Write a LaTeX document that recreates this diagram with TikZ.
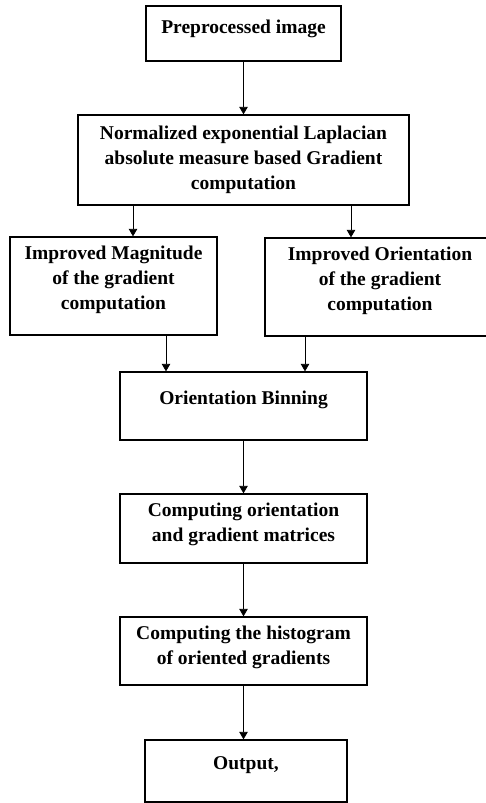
\documentclass[tikz,border=0pt]{standalone}
\usepackage{fontspec}
\setmainfont{Liberation Serif}
\usetikzlibrary{arrows.meta}

\tikzset{
  flowbox/.style={draw, line width=1.3pt, align=center, inner sep=0pt,
    font=\fontsize{19.5}{25}\selectfont\bfseries},
  arr/.style={line width=0.8pt, -{Triangle[length=7.5pt,width=8.5pt]}}
}

\begin{document}
\begin{tikzpicture}[x=1pt, y=-1pt]
    \useasboundingbox (0,0) rectangle (486,803);

    % Input
    \node[flowbox, minimum width=195pt, minimum height=55pt, text depth=14pt]
        (pre) at (243.5,33.5) {Preprocessed image};

    % Gradient computation
    \node[flowbox, minimum width=331pt, minimum height=90pt]
        (grad) at (243.5,160) {Normalized exponential Laplacian\\absolute measure based Gradient\\computation};

    % Magnitude and orientation
    \node[flowbox, minimum width=207pt, minimum height=98pt, text depth=16pt]
        (mag) at (113.5,286) {Improved Magnitude\\of the gradient\\computation};
    \node[flowbox, minimum width=230pt, minimum height=98pt, text depth=16pt]
        (ori) at (380,287) {Improved Orientation\\of the gradient\\computation};

    % Binning
    \node[flowbox, minimum width=247pt, minimum height=68pt, text depth=16pt]
        (bin) at (243.5,406) {Orientation Binning};

    % Matrices and histogram
    \node[flowbox, minimum width=247pt, minimum height=69pt, text depth=12pt]
        (mat) at (243.5,528.5) {Computing orientation\\and gradient matrices};
    \node[flowbox, minimum width=247pt, minimum height=68pt, text depth=12pt]
        (hist) at (243.5,651) {Computing the histogram\\of oriented gradients};

    % Output
    \node[flowbox, minimum width=202pt, minimum height=62pt, text depth=16pt]
        (out) at (246,771) {Output,};

    % Arrows
    \draw[arr] (pre) -- (grad);
    \draw[arr] ([xshift=19.5pt]mag.north |- grad.south) -- ([xshift=19.5pt]mag.north);
    \draw[arr] ([xshift=-29pt]ori.north |- grad.south) -- ([xshift=-29pt]ori.north);
    \draw[arr] ([xshift=52.5pt]mag.south) -- ([xshift=52.5pt]mag.south |- bin.north);
    \draw[arr] ([xshift=-75pt]ori.south) -- ([xshift=-75pt]ori.south |- bin.north);
    \draw[arr] (bin) -- (mat);
    \draw[arr] (mat) -- (hist);
    \draw[arr] (hist.south) -- (hist.south |- out.north);
\end{tikzpicture}
\end{document}
